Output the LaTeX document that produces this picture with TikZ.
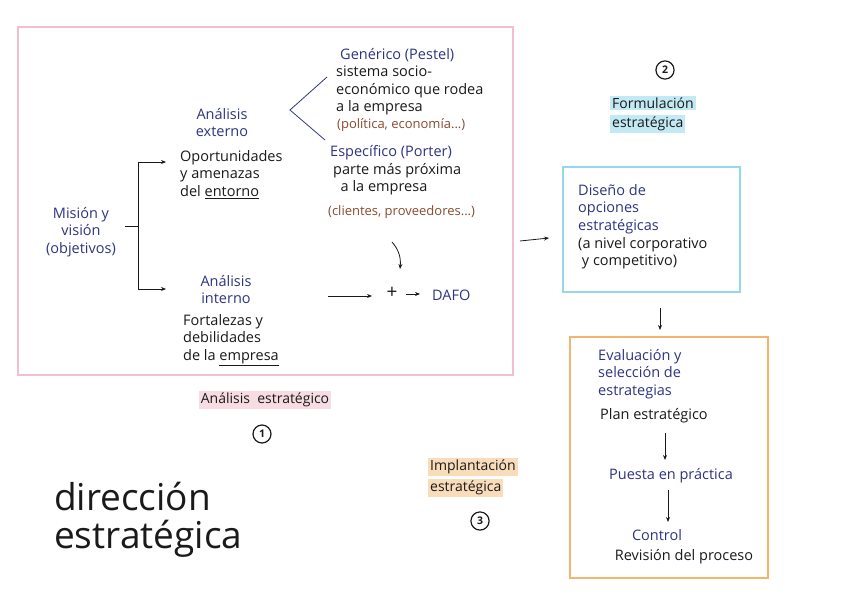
\documentclass[tikz,border=0pt]{standalone}
\usepackage{fontspec}
\setmainfont{Open Sans}
\usetikzlibrary{arrows.meta}
\definecolor{navyc}{HTML}{2E3580}
\definecolor{inkc}{HTML}{1A1A1A}
\definecolor{brownc}{HTML}{8A4B2E}
\definecolor{pinkbox}{HTML}{F2BFCC}
\definecolor{bluebox}{HTML}{95D8EA}
\definecolor{orangebox}{HTML}{F3B46C}
\definecolor{pinkhl}{HTML}{F7DCE3}
\definecolor{bluehl}{HTML}{C2E9F4}
\definecolor{orangehl}{HTML}{F9DDBB}
\tikzset{
  txt/.style={inner sep=0pt, align=left, font=\fontsize{14.5}{17.5}\selectfont, text=inkc},
  navytxt/.style={txt, text=navyc},
  browntxt/.style={txt, text=brownc, font=\fontsize{13}{15}\selectfont},
  hl/.style={inner xsep=2pt, inner ysep=1.5pt, font=\fontsize{14}{17}\selectfont, text=inkc},
  numcirc/.style={circle, draw=inkc, line width=1.2pt, inner sep=3pt, font=\fontsize{10.5}{10.5}\selectfont\bfseries, text=inkc},
  arr/.style={draw=inkc, line width=0.8pt, -{Stealth[length=5pt,width=4pt]}},
  ln/.style={draw=inkc, line width=0.8pt},
}
\begin{document}
\begin{tikzpicture}[x=1pt,y=-1pt]
\useasboundingbox (0,0) rectangle (848,604);
\fill[white] (0,0) rectangle (848,604);

% boxes
\draw[pinkbox, line width=2pt] (18,27) rectangle (513,375);
\draw[bluebox, line width=2.2pt] (563,167) rectangle (740,292);
\draw[orangebox, line width=2.2pt] (570,337) rectangle (768,578);

% phase 1
\node[navytxt, align=center] (mision) at (81,232) {Misión y\\visión\\(objetivos)};
\coordinate (mout) at (125,226);
\coordinate (brk) at (138,226);
\coordinate (brtop) at (138,162);
\coordinate (brbot) at (138,289);
\draw[ln] (mout) -- (brk);
\draw[ln] (brtop) -- (brbot);
\node[navytxt, align=center, anchor=north] (aext) at (222,108) {Análisis\\externo};
\node[txt, anchor=north west] (oport) at (180,150) {Oportunidades\\y amenazas\\del \underline{entorno}};
\node[navytxt, align=center, anchor=north] (aint) at (226,275) {Análisis\\interno};
\node[txt, anchor=north west] (fort) at (183,314) {Fortalezas y\\debilidades\\de la \underline{empresa}};
\coordinate (aeA) at (166,162);
\coordinate (aiA) at (166,289);
\draw[arr] (brtop) -- (aeA);
\draw[arr] (brbot) -- (aiA);

\node[navytxt, anchor=west] (gen) at (340,55) {Genérico (Pestel)};
\node[txt, anchor=north west] (sist) at (336,66) {sistema socio-\\económico que rodea\\a la empresa};
\node[browntxt, anchor=west] (pol) at (337,125) {(política, economía...)};
\node[navytxt, anchor=west] (esp) at (330,153) {Específico (Porter)};
\node[txt, anchor=north west] (parte) at (333,163) {parte más próxima\\\ \ a la empresa};
\node[browntxt, anchor=west] (cli) at (328,212) {(clientes, proveedores...)};

\coordinate (chA) at (327,77);
\coordinate (chB) at (290,110);
\coordinate (chC) at (325,140);
\draw[navyc, line width=0.8pt] (chA) -- (chB) -- (chC);

\node[inner sep=0pt, font=\fontsize{19}{19}\selectfont, text=inkc] (plus) at (392,293) {+};
\node[navytxt, anchor=west] (dafo) at (432,295) {DAFO};
\coordinate (cs) at (392,242);
\coordinate (ce) at (400,269);
\draw[arr] (cs) .. controls (399,250) and (401,258) .. (ce);
\coordinate (ia) at (328,296);
\coordinate (ib) at (372,296);
\draw[arr] (ia) -- (ib);
\coordinate (pa) at (406,294);
\coordinate (pb) at (420,294);
\draw[arr] (pa) -- (pb);

\node[hl, fill=pinkhl] (aest) at (265,400) {Análisis\ \ estratégico};
\node[numcirc] (n1) at (262,434) {1};

% title
\node[inner sep=0pt, align=left, anchor=north west, font=\fontsize{37}{38}\selectfont, text=inkc] (title) at (54,482) {dirección\\estratégica};

% phase 2
\node[numcirc] (n2) at (665,70) {2};
\node[hl, fill=bluehl, anchor=west] (fm1) at (610,103) {Formulación};
\node[hl, fill=bluehl, anchor=west] (fm2) at (610,124) {estratégica};
\node[navytxt, anchor=north west] (dis) at (578,184) {Diseño de\\opciones\\estratégicas};
\node[txt, anchor=north west] (niv) at (578,237) {(a nivel corporativo\\\ y competitivo)};
\coordinate (pk) at (520,241);
\coordinate (pkb) at (549,238);
\draw[arr] (pk) -- (pkb);
\coordinate (bd) at (660,308);
\coordinate (bde) at (660,330);
\draw[arr] (bd) -- (bde);

% phase 3
\node[navytxt, anchor=north west] (eval) at (598,349) {Evaluación y\\selección de\\estrategias};
\node[txt, anchor=west] (plan) at (600,416) {Plan estratégico};
\node[navytxt] (puesta) at (671,476) {Puesta en práctica};
\node[navytxt] (control) at (657,535) {Control};
\node[txt] (rev) at (684,557) {Revisión del proceso};
\coordinate (p1) at (665,433);
\coordinate (p2) at (665,460);
\draw[arr] (p1) -- (p2);
\coordinate (c1) at (668,490);
\coordinate (c2) at (668,522);
\draw[arr] (c1) -- (c2);

\node[hl, fill=orangehl, anchor=west] (im1) at (428,467) {Implantación};
\node[hl, fill=orangehl, anchor=west] (im2) at (428,488) {estratégica};
\node[numcirc] (n3) at (480,521) {3};
\end{tikzpicture}
\end{document}
